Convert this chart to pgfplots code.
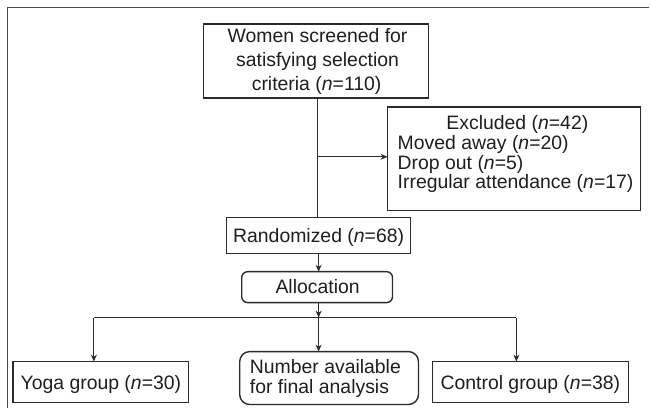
\documentclass[border=0pt]{standalone}
\usepackage{pgfplots}
\pgfplotsset{compat=1.18}
\usetikzlibrary{arrows.meta}
\usepackage{fontspec}
\setmainfont{Liberation Sans}
\definecolor{ln}{HTML}{2B2B2B}
\definecolor{frm}{HTML}{4A4A4A}
\definecolor{tx}{HTML}{1E1E1E}
\begin{document}
\begin{tikzpicture}[
  bx/.style={draw=ln, line width=1.4bp},
  cn/.style={draw=ln, line width=1bp},
  arr/.style={draw=ln, line width=1bp, -{Stealth[length=7bp,width=6bp]}},
  t/.style={inner sep=0pt, text=tx, font=\fontsize{19.5}{23}\selectfont},
]
\begin{axis}[width=650bp,height=408bp,scale only axis,
  xmin=0,xmax=650,ymin=0,ymax=408,y dir=reverse,hide axis,clip=false]
\addplot[draw=none] coordinates {(0,0) (650,408)};
% outer frame
\addplot[draw=frm, line width=1.6bp] coordinates {(7.5,408) (7.5,7.5) (650,7.5)};
% boxes
\addplot[bx] coordinates {(204,24) (429,24) (429,98) (204,98)} --cycle;
\addplot[bx] coordinates {(388,107) (641,107) (641,211) (388,211)} --cycle;
\addplot[bx] coordinates {(227,218) (411,218) (411,254) (227,254)} --cycle;
\addplot[bx, rounded corners=6bp] coordinates {(242,272) (393,272) (393,303) (242,303)} --cycle;
\addplot[bx] coordinates {(13,362) (189,362) (189,403) (13,403)} --cycle;
\addplot[bx, rounded corners=10bp] coordinates {(240,352) (419,352) (419,405) (240,405)} --cycle;
\addplot[bx] coordinates {(433,362) (629,362) (629,403) (433,403)} --cycle;
% connectors
\addplot[cn] coordinates {(318,98) (318,218)};
\addplot[arr] coordinates {(318,157) (388,157)};
\addplot[arr] coordinates {(319,254) (319,272)};
\addplot[arr] coordinates {(319,303) (319,318)};
\addplot[cn] coordinates {(94,318) (517,318)};
\addplot[arr] coordinates {(94,318) (94,362)};
\addplot[arr] coordinates {(319,318) (319,352)};
\addplot[arr] coordinates {(517,318) (517,362)};
% texts
\node[t, anchor=base] at (318,43) {Women screened for};
\node[t, anchor=base] at (318,67) {satisfying selection};
\node[t, anchor=base] at (317,91) {criteria (\textit{n}=110)};
\node[t, anchor=base] at (518,130) {Excluded (\textit{n}=42)};
\node[t, anchor=base west] at (398,150) {Moved away (\textit{n}=20)};
\node[t, anchor=base west] at (398,169.5) {Drop out (\textit{n}=5)};
\node[t, anchor=base west] at (398,189) {Irregular attendance (\textit{n}=17)};
\node[t, anchor=base] at (319,243) {Randomized (\textit{n}=68)};
\node[t, anchor=base] at (318,294) {Allocation};
\node[t, anchor=base] at (101,389.5) {Yoga group (\textit{n}=30)};
\node[t, anchor=base west] at (250,374) {Number available};
\node[t, anchor=base west] at (250,394) {for final analysis};
\node[t, anchor=base] at (531,389.5) {Control group (\textit{n}=38)};
\end{axis}
\end{tikzpicture}
\end{document}
